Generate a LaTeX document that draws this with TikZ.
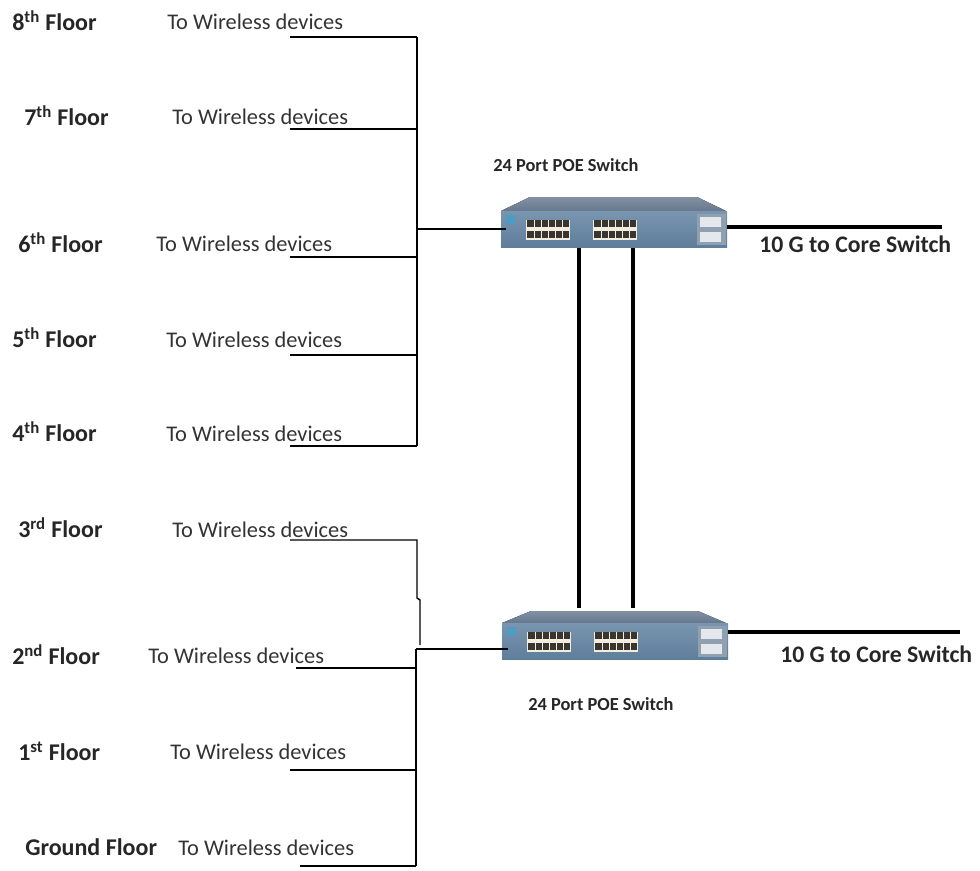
\documentclass[tikz,border=0pt]{standalone}
\usepackage{fontspec}
\setmainfont{Carlito}
\usetikzlibrary{calc}

\tikzset{
  floorLabel/.style={anchor=west, inner sep=0pt, font=\fontsize{18}{20}\selectfont\bfseries, text=black!85},
  deviceLabel/.style={anchor=west, inner sep=0pt, font=\fontsize{16.8}{20}\selectfont, text=black!80},
  switchLabel/.style={anchor=west, inner sep=0pt, font=\fontsize{13.8}{16}\selectfont\bfseries, text=black!85},
  uplinkLabel/.style={anchor=west, inner sep=0pt, font=\fontsize{17.8}{20}\selectfont\bfseries, text=black!85},
  thinLine/.style={draw=black, line width=1.1pt},
  thickLine/.style={draw=black, line width=2.3pt},
  switchFront/.style={draw=none, top color=frontTop, bottom color=frontBottom, minimum width=169.5pt, minimum height=27pt, inner sep=0pt, outer sep=0pt}
}

\begin{document}
\begin{tikzpicture}[x=0.75pt, y=-0.75pt]
    % Define colours
    \definecolor{frontTop}{HTML}{7995B0}
    \definecolor{frontBottom}{HTML}{5F7E9B}
    \definecolor{topColour}{HTML}{66788F}
    \definecolor{topDark}{HTML}{8290A2}
    \definecolor{portColour}{HTML}{3A352E}
    \definecolor{stripColour}{HTML}{F1EEDF}
    \definecolor{moduleColour}{HTML}{E4E8EC}
    \definecolor{frameColour}{HTML}{8FA0B0}
    \definecolor{ledColour}{HTML}{4F9BC4}

  % Fix the margins
  \useasboundingbox (0,0) rectangle (980,870);

  % Draw the two switches
  \foreach \name/\xs/\ys/\topy in {upper/501/211/197, lower/502/623/611}{
    \fill[top color=topDark, bottom color=topColour] (\xs,\ys) -- (\xs+29,\topy) -- (\xs+196,\topy) -- (726,\ys) -- cycle;
    \node[switchFront, anchor=north west] (\name) at (\xs,\ys) {};
    \fill[ledColour] (\xs+5,\ys+4) rectangle (\xs+14,\ys+13);
    % Port blocks
    \foreach \px in {25,92}{
      \fill[stripColour] (\xs+\px,\ys+9) rectangle (\xs+\px+44,\ys+29);
      \fill[portColour] (\xs+\px+1,\ys+9) rectangle (\xs+\px+43,\ys+16);
      \fill[portColour] (\xs+\px+1,\ys+20) rectangle (\xs+\px+43,\ys+27);
      \foreach \k in {1,...,5}
        \draw[stripColour, line width=0.5pt] (\xs+\px+1+7*\k,\ys+9) -- +(0,18);
    }
    % Uplink modules
    \fill[frameColour] (\xs+196,\ys+3) rectangle (\xs+225,\ys+34);
    \fill[moduleColour] (\xs+199,\ys+6) rectangle (\xs+220,\ys+16);
    \fill[moduleColour] (\xs+199,\ys+21) rectangle (\xs+220,\ys+31);
  }

  % Define the bus points
  \coordinate (upperTop) at (417,37);
  \coordinate (upperBottom) at (417,446);
  \coordinate (upperTap) at (417,229);
  \coordinate (lowerTap) at (416,649);
  \coordinate (lowerBottom) at (416,866);

  % Label the floors and the wireless devices
  \node[floorLabel] (floor8) at (12,21) {8\textsuperscript{th} Floor};
  \node[floorLabel] (floor7) at (24,116) {7\textsuperscript{th} Floor};
  \node[floorLabel] (floor6) at (18,243) {6\textsuperscript{th} Floor};
  \node[floorLabel] (floor5) at (12,338) {5\textsuperscript{th} Floor};
  \node[floorLabel] (floor4) at (12,432) {4\textsuperscript{th} Floor};
  \node[floorLabel] (floor3) at (18,528) {3\textsuperscript{rd} Floor};
  \node[floorLabel] (floor2) at (12,655) {2\textsuperscript{nd} Floor};
  \node[floorLabel] (floor1) at (18,751) {1\textsuperscript{st} Floor};
  \node[floorLabel] (floor0) at (25,847) {Ground Floor};

  \foreach \name/\xt/\yt in {8/167/22, 7/172/117, 6/156/244, 5/166/340, 4/166/434, 3/172/530, 2/148/656, 1/170/752, 0/178/848}
    \node[deviceLabel] (devices\name) at (\xt,\yt) {To Wireless devices};

  % Upper floor lines
  \foreach \name/\yl in {8/37, 7/129, 6/257, 5/355, 4/446}{
    \coordinate (drop\name) at (290,\yl);
    \draw[thinLine] (drop\name) -- (417,\yl);
  }
  \draw[thinLine] (upperTop) -- (upperBottom);

  % Lower floor lines
  \foreach \name/\xl/\yl in {2/296/668, 1/290/770, 0/300/866}{
    \coordinate (drop\name) at (\xl,\yl);
    \draw[thinLine] (drop\name) -- (416,\yl);
  }
  \draw[thinLine] (lowerTap) -- (lowerBottom);

  % 3rd floor line has its own path
  \coordinate (drop3) at (290,540);
  \coordinate (bendA) at (417,540);
  \coordinate (bendB) at (420,645);
  \draw[thinLine] (drop3) -- (bendA) -- (417,598) -- (420,600) -- (bendB);

  % Links to the switches
  \draw[thinLine] (upperTap) -- (upper.west |- upperTap) -- ++(5,0);
  \draw[thinLine] (lowerTap) -- (lower.west |- lowerTap) -- ++(6,0);

  % Links between the switches
  \foreach \xl in {579,633}
    \draw[thickLine] (\xl,248) -- (\xl,608);

  % Links to the core switch
  \coordinate (coreUpper) at (942,227);
  \coordinate (coreLower) at (960,632);
  \draw[thickLine] (upper.east |- coreUpper) -- (coreUpper);
  \draw[thickLine] (lower.east |- coreLower) -- (coreLower);

  % Label the switches
  \node[switchLabel] (upperLabel) at (493,165) {24 Port POE Switch};
  \node[switchLabel] (lowerLabel) at (528,704) {24 Port POE Switch};
  \node[uplinkLabel] (upperCore) at (759,244) {10 G to Core Switch};
  \node[uplinkLabel] (lowerCore) at (780,654) {10 G to Core Switch};

\end{tikzpicture}
\end{document}
